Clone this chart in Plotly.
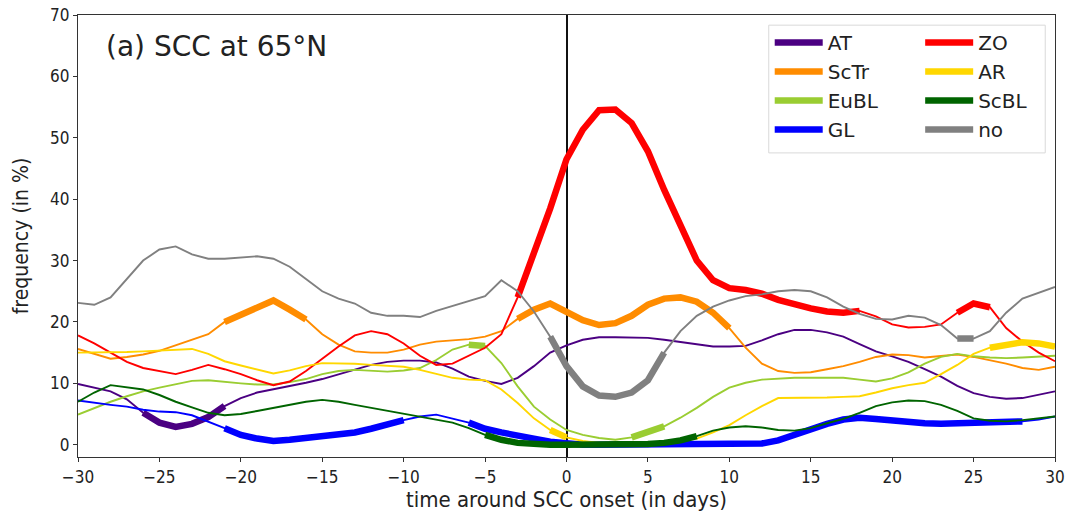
import plotly.graph_objects as go

days = list(range(-30, 31))

AT = [9.9, 9.3, 8.7, 7.4, 5.2, 3.6, 2.9, 3.4, 4.5, 6.3, 7.6, 8.5, 9.0, 9.5, 10.1, 10.7, 11.5, 12.3, 13.0, 13.5, 13.7,
      13.7, 13.4, 12.4, 11.1, 10.4, 9.9, 10.9, 12.8, 15.0, 16.2, 17.1, 17.5, 17.5, 17.4, 17.4, 17.1, 16.7, 16.3, 16.0,
      16.0, 16.1, 17.0, 18.0, 18.7, 18.7, 18.3, 17.6, 16.4, 15.2, 14.4, 13.5, 12.3, 11.1, 9.6, 8.4, 7.8, 7.5, 7.6, 8.1, 8.7]
ScTr = [15.6, 14.8, 14.0, 14.3, 14.7, 15.3, 16.2, 17.0, 18.0, 20.0, 21.2, 22.4, 23.5, 22.0, 20.4, 18.0, 16.3, 15.2, 15.0,
        15.0, 15.5, 16.3, 16.8, 17.0, 17.2, 17.6, 18.5, 20.5, 22.0, 23.0, 21.6, 20.3, 19.5, 19.8, 21.0, 22.8, 23.8, 24.0,
        23.3, 21.5, 19.0, 15.8, 13.2, 12.0, 11.7, 11.8, 12.3, 12.8, 13.5, 14.3, 14.7, 14.6, 14.2, 14.5, 14.7, 14.3, 13.8,
        13.2, 12.5, 12.2, 12.7]
EuBL = [4.9, 6.0, 7.0, 7.9, 8.7, 9.3, 9.9, 10.4, 10.5, 10.2, 10.0, 9.8, 9.8, 10.2, 10.7, 11.5, 12.0, 12.2, 12.0, 11.9,
        12.1, 12.5, 13.8, 15.5, 16.3, 16.1, 13.3, 9.5, 6.2, 4.1, 2.4, 1.6, 1.1, 0.8, 1.2, 2.0, 3.0, 4.4, 6.0, 7.8, 9.3,
        10.1, 10.6, 10.8, 10.9, 10.9, 10.9, 10.9, 10.6, 10.3, 10.8, 11.8, 13.2, 14.3, 14.8, 14.4, 14.2, 14.1, 14.2, 14.4, 14.5]
GL = [7.2, 6.8, 6.5, 6.2, 5.7, 5.4, 5.3, 4.8, 3.8, 2.7, 1.6, 1.0, 0.6, 0.8, 1.1, 1.4, 1.6, 2.0, 2.6, 3.2, 4.0, 4.6, 4.9,
      4.3, 3.6, 2.6, 2.0, 1.4, 1.0, 0.5, 0.2, 0.0, 0.0, 0.0, 0.0, 0.0, 0.0, 0.0, 0.0, 0.0, 0.0, 0.0, 0.2, 0.7, 1.6, 2.6,
      3.4, 4.1, 4.4, 4.2, 3.9, 3.6, 3.5, 3.4, 3.5, 3.7, 3.8, 3.8, 3.8, 4.1, 4.6]
ZO = [17.8, 16.5, 15.0, 13.5, 12.5, 12.0, 11.5, 12.2, 13.0, 12.3, 11.5, 10.5, 9.7, 10.3, 12.0, 14.0, 16.0, 17.8, 18.5,
      18.0, 16.5, 14.5, 13.0, 13.2, 14.5, 15.8, 18.0, 24.0, 31.0, 38.5, 46.5, 51.3, 54.5, 54.6, 52.4, 47.8, 41.5, 35.5,
      30.0, 26.8, 25.5, 25.2, 24.6, 23.6, 22.8, 22.2, 21.7, 21.5, 21.8, 20.9, 19.6, 19.1, 19.2, 19.6, 21.5, 23.0, 22.4,
      19.0, 16.8, 15.0, 13.6]
AR = [15.0, 15.0, 15.0, 15.1, 15.2, 15.3, 15.4, 15.6, 14.8, 13.6, 12.9, 12.2, 11.6, 12.1, 12.8, 13.3, 13.3, 13.2, 13.0,
      12.9, 12.7, 12.2, 11.6, 10.9, 10.6, 10.5, 9.0, 6.8, 4.3, 2.4, 1.2, 0.6, 0.3, 0.2, 0.2, 0.3, 0.5, 0.8, 1.0, 2.0, 3.2,
      4.8, 6.3, 7.6, 7.6, 7.6, 7.7, 7.8, 7.9, 8.5, 9.2, 9.7, 10.1, 11.5, 13.0, 14.8, 15.8, 16.3, 16.7, 16.5, 16.0]
ScBL = [7.0, 8.5, 9.7, 9.4, 9.0, 8.1, 7.0, 6.1, 5.2, 4.8, 5.0, 5.5, 6.0, 6.5, 7.0, 7.3, 7.0, 6.5, 6.0, 5.5, 5.0, 4.6,
        4.1, 3.6, 2.7, 1.6, 0.8, 0.3, 0.1, 0.0, 0.0, 0.0, 0.0, 0.0, 0.0, 0.1, 0.3, 0.7, 1.4, 2.3, 2.8, 3.0, 2.8, 2.4, 2.3,
        2.7, 3.5, 4.2, 5.2, 6.3, 6.9, 7.2, 7.1, 6.5, 5.5, 4.3, 3.9, 3.8, 4.0, 4.3, 4.6]
NO = [23.1, 22.8, 24.0, 27.0, 30.0, 31.8, 32.3, 31.0, 30.3, 30.3, 30.5, 30.7, 30.3, 29.0, 27.0, 25.0, 23.8, 23.0, 21.5,
      21.0, 21.0, 20.8, 21.8, 22.6, 23.3, 24.2, 26.8, 25.0, 21.7, 17.6, 12.8, 9.5, 8.0, 7.8, 8.5, 10.5, 15.0, 18.5, 21.0,
      22.5, 23.5, 24.2, 24.5, 25.0, 25.2, 25.0, 24.0, 22.5, 21.3, 20.5, 20.4, 21.0, 20.7, 19.5, 17.3, 17.3, 18.5, 21.5,
      23.8, 24.7, 25.7]

# significant periods (thick segments), in days
sig_AT = [(-26, -21)]
sig_ScTr = [(-21, -16), (-3, 10)]
sig_EuBL = [(-6, -5), (4, 6)]
sig_GL = [(-21, -10), (-6, 28)]
sig_ZO = [(-3, 18), (24, 26)]
sig_AR = [(-1, 0), (26, 30)]
sig_ScBL = [(-5, 8)]
sig_NO = [(-1, 6), (24, 25)]

series = [
    ("AT", AT, sig_AT, "#4B0082", "legend"),
    ("ScTr", ScTr, sig_ScTr, "#FF8C00", "legend"),
    ("EuBL", EuBL, sig_EuBL, "#9ACD32", "legend"),
    ("GL", GL, sig_GL, "#0000FF", "legend"),
    ("ZO", ZO, sig_ZO, "#FF0000", "legend2"),
    ("AR", AR, sig_AR, "#FFD700", "legend2"),
    ("ScBL", ScBL, sig_ScBL, "#006400", "legend2"),
    ("no", NO, sig_NO, "#808080", "legend2"),
]

fig = go.Figure()
for name, vals, sig, col, leg in series:
    fig.add_trace(go.Scatter(x=days, y=vals, mode="lines", line=dict(color=col, width=1.9),
                             showlegend=False, legendgroup=name, hoverinfo="skip"))
    thick = [v if any(a <= d <= b for a, b in sig) else None for d, v in zip(days, vals)]
    fig.add_trace(go.Scatter(x=days, y=thick, mode="lines", line=dict(color=col, width=6.5),
                             name=name, legendgroup=name, legend=leg, connectgaps=False))

tickfont = dict(family="DejaVu Sans Condensed, DejaVu Sans", size=17, color="#222")
fig.update_layout(
    width=1069, height=519,
    margin=dict(l=78, r=14, t=15, b=62),
    paper_bgcolor="white", plot_bgcolor="white",
    font=dict(family="DejaVu Sans", color="#222"),
    xaxis=dict(range=[-30, 30], tickmode="linear", tick0=-30, dtick=5, ticks="outside", ticklen=4,
               tickcolor="#333", showgrid=False, showline=True, linecolor="#333", linewidth=1.2, mirror=True,
               zeroline=True, zerolinecolor="#111", zerolinewidth=1.8, tickfont=tickfont, automargin=False,
               ticklabeloverflow="allow",
               title=dict(text="time around SCC onset (in days)", standoff=6,
                          font=dict(family="DejaVu Sans Condensed, DejaVu Sans", size=22, color="#222"))),
    yaxis=dict(range=[-2, 70], tickmode="linear", tick0=0, dtick=10, ticks="outside", ticklen=4,
               tickcolor="#333", showgrid=False, showline=True, linecolor="#333", linewidth=1.2, mirror=True,
               zeroline=False, tickfont=tickfont, automargin=False, ticklabeloverflow="allow",
               title=dict(text="frequency (in %)", standoff=15,
                          font=dict(family="DejaVu Sans Condensed, DejaVu Sans", size=21, color="#222"))),
    legend=dict(x=0.708, y=0.982, xanchor="left", yanchor="top", bgcolor="rgba(0,0,0,0)",
                font=dict(size=20, family="DejaVu Sans"), itemwidth=48, tracegroupgap=0),
    legend2=dict(x=0.862, y=0.982, xanchor="left", yanchor="top", bgcolor="rgba(0,0,0,0)",
                 font=dict(size=20, family="DejaVu Sans"), itemwidth=48, tracegroupgap=0),
    shapes=[dict(type="rect", xref="paper", yref="paper", x0=0.707, x1=0.990, y0=0.688, y1=0.977,
                 line=dict(color="#d9d9d9", width=1), fillcolor="rgba(255,255,255,0.85)", layer="above")],
    annotations=[dict(text="(a) SCC at 65°N", xref="paper", yref="paper", x=0.027, y=0.928,
                      xanchor="left", yanchor="middle", showarrow=False,
                      font=dict(family="DejaVu Sans", size=28, color="#222"))],
)
fig.write_html("out.html", config={"displayModeBar": False},
               post_script="document.body.style.margin='0';document.body.style.padding='0';")
